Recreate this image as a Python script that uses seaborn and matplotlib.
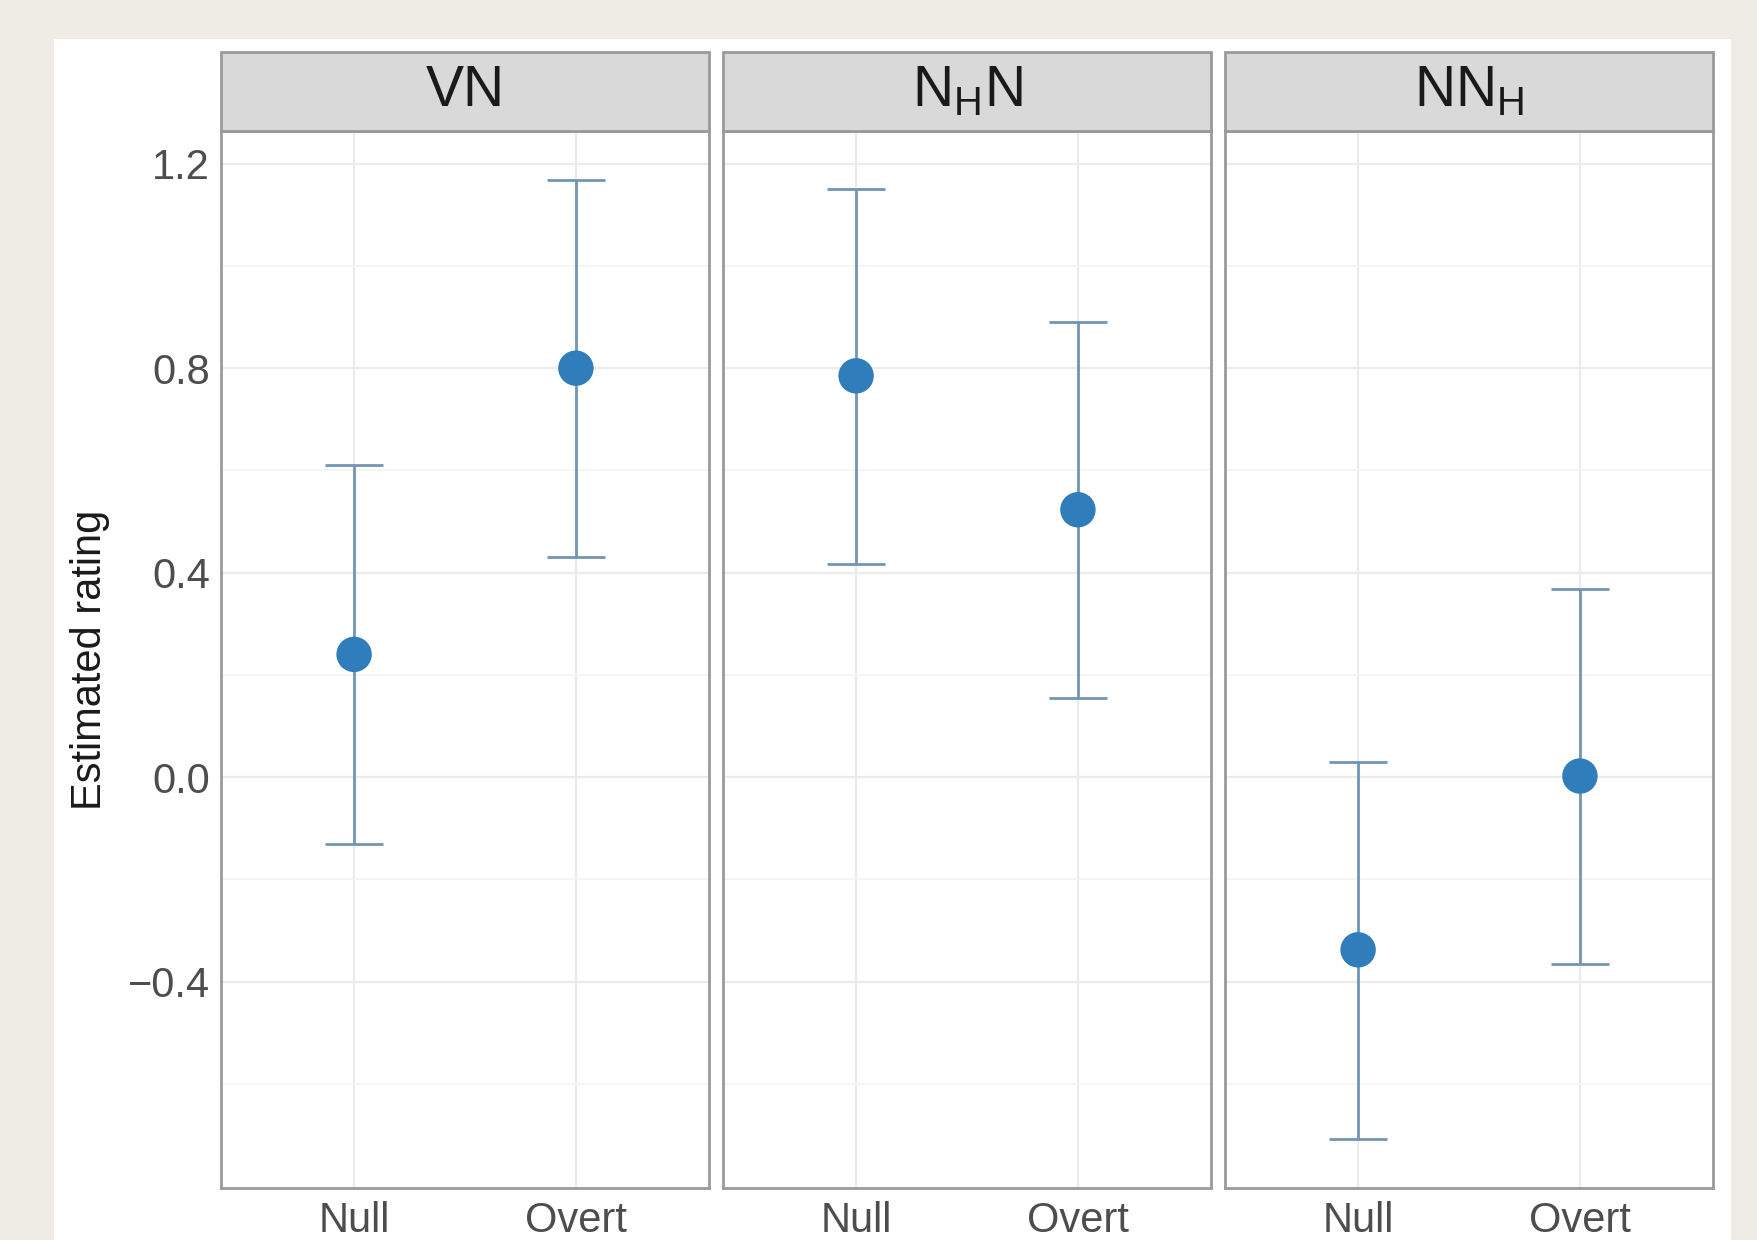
import numpy as np
import pandas as pd
import matplotlib
matplotlib.use("Agg")
import matplotlib.pyplot as plt
from matplotlib.patches import Rectangle
import seaborn as sns

# values
panels = ["VN", "NHN", "NNH"]
panel_labels = ["VN", r"N$_\mathregular{H}$N", r"NN$_\mathregular{H}$"]
conditions = ["Null", "Overt"]
estimate = [0.24, 0.80, 0.785, 0.523, -0.338, 0.002]
lower = [-0.13, 0.43, 0.416, 0.155, -0.708, -0.366]
upper = [0.61, 1.168, 1.15, 0.89, 0.03, 0.368]

df = pd.DataFrame({
    "panel": np.repeat(panels, 2),
    "condition": conditions * 3,
    "estimate": estimate,
    "lower": lower,
    "upper": upper,
})

sns.set_theme(style="white")
plt.rcParams["font.family"] = ["Liberation Sans", "DejaVu Sans"]
plt.rcParams["mathtext.fontset"] = "custom"
plt.rcParams["mathtext.rm"] = "Liberation Sans"

bg = "#efece5"
point_col = "#2f7dba"
bar_col = "#7395b4"
border = "#9a9a9a"

fig, axes = plt.subplots(1, 3, sharey=True, figsize=(17.57, 12.4), dpi=100)
fig.patch.set_facecolor(bg)
fig.patches.append(Rectangle((54 / 1757, 0), (1731 - 54) / 1757, 1 - 39 / 1240,
                             transform=fig.transFigure, facecolor="white",
                             edgecolor="none", zorder=-10))
fig.subplots_adjust(left=221 / 1757, right=1713 / 1757, top=1 - 131 / 1240,
                    bottom=1 - 1188 / 1240, wspace=0.0287)

for ax, p, lab in zip(axes, panels, panel_labels):
    sub = df[df["panel"] == p]
    ax.set_facecolor("white")
    ax.errorbar(sub["condition"], sub["estimate"],
                yerr=[sub["estimate"] - sub["lower"], sub["upper"] - sub["estimate"]],
                fmt="none", ecolor=bar_col, elinewidth=2.0, capsize=21, capthick=2.0,
                zorder=2)
    sns.scatterplot(data=sub, x="condition", y="estimate", ax=ax, color=point_col,
                    s=650, edgecolor="none", zorder=3, legend=False)
    ax.set_xlim(-0.6, 1.6)
    ax.set_ylim(-0.804, 1.264)
    ax.set_yticks([-0.4, 0.0, 0.4, 0.8, 1.2])
    ax.set_yticks([-0.6, -0.2, 0.2, 0.6, 1.0], minor=True)
    ax.set_yticklabels(["\u22120.4", "0.0", "0.4", "0.8", "1.2"])
    ax.grid(True, which="major", color="#ebebeb", linewidth=1.6)
    ax.grid(True, which="minor", axis="y", color="#f4f4f4", linewidth=1.2)
    ax.set_axisbelow(True)
    ax.set_xlabel("")
    ax.set_ylabel("")
    ax.tick_params(axis="both", which="both", length=0, labelsize=30,
                   labelcolor="#4d4d4d")
    ax.tick_params(axis="x", pad=9)
    ax.tick_params(axis="y", pad=8)
    for s in ax.spines.values():
        s.set_color(border)
        s.set_linewidth(2)
    # facet strip
    ax.add_patch(Rectangle((0, 1), 1, 79 / 1057, transform=ax.transAxes,
                           facecolor="#d9d9d9", edgecolor=border, linewidth=2,
                           clip_on=False, zorder=5))
    ax.text(0.5, 1 + 39.5 / 1057, lab, transform=ax.transAxes, ha="center",
            va="center", fontsize=41, color="#1a1a1a", zorder=6)

axes[0].set_ylabel("Estimated rating", fontsize=30, color="#1a1a1a")
axes[0].yaxis.set_label_coords(-0.228, 0.5)

fig.savefig("out.png", dpi=100, facecolor=bg)
